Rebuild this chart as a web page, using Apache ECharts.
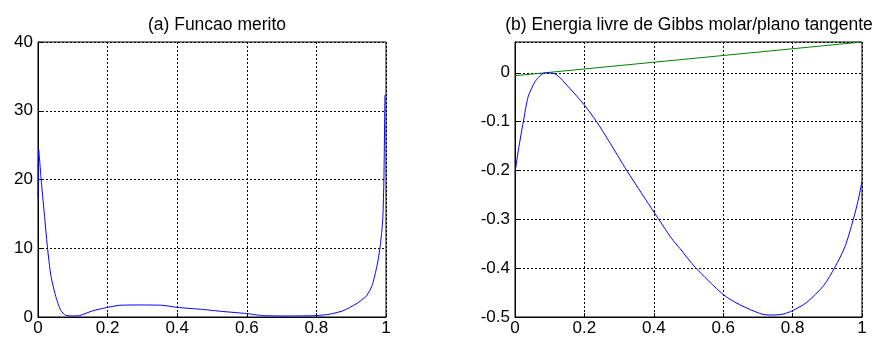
<!DOCTYPE html>
<html>
<head>
<meta charset="utf-8">
<script src="https://cdn.jsdelivr.net/npm/echarts@6/dist/echarts.min.js"></script>
<style>
html,body{margin:0;padding:0;background:#fff;}
#c{width:878px;height:341px;}
</style>
</head>
<body>
<div id="c"></div>
<script>
// (a) Funcao merito
var titleA = '(a) Funcao merito';
var xA = [0, 0.002, 0.009, 0.018, 0.027, 0.037, 0.051, 0.065, 0.079, 0.1, 0.119, 0.157, 0.2, 0.234, 0.3, 0.358, 0.4, 0.473, 0.531, 0.6, 0.646, 0.72, 0.8, 0.837, 0.876, 0.914, 0.943, 0.954, 0.962, 0.97, 0.977, 0.983, 0.988, 0.991, 0.994, 0.997];
var yA = [17.3, 24.3, 20, 15.1, 10.2, 6.0, 3.0, 1.0, 0.25, 0.15, 0.2, 0.9, 1.4, 1.7, 1.75, 1.7, 1.4, 1.1, 0.8, 0.5, 0.2, 0.15, 0.2, 0.4, 0.9, 1.9, 3.0, 3.9, 4.9, 6.5, 8.2, 10.2, 12.5, 14.5, 20, 32.3];
var xTicksA = [0, 0.2, 0.4, 0.6, 0.8, 1];
var yTicksA = [0, 10, 20, 30, 40];

// (b) Energia livre de Gibbs molar / plano tangente
var titleB = '(b) Energia livre de Gibbs molar/plano tangente';
var xB = [0, 0.0096, 0.024, 0.038, 0.058, 0.077, 0.096, 0.12, 0.154, 0.2, 0.235, 0.269, 0.322, 0.365, 0.403, 0.451, 0.4755, 0.519, 0.6, 0.648, 0.711, 0.742, 0.773, 0.8, 0.841, 0.889, 0.922, 0.951, 0.975, 0.989, 1.0];
var yB = [-0.205, -0.159, -0.1, -0.049, -0.018, -0.003, 0, -0.004, -0.029, -0.066, -0.1, -0.138, -0.2, -0.247, -0.288, -0.339, -0.36, -0.398, -0.454, -0.475, -0.494, -0.496, -0.494, -0.487, -0.47, -0.436, -0.398, -0.356, -0.3, -0.261, -0.223];
var tangentX = [0, 1];
var tangentY = [-0.006, 0.063];
var yMaxB = 0.063;

function pairs(xs, ys) { return xs.map(function (x, i) { return [x, ys[i]]; }); }

var font = 'Liberation Sans, Arial, sans-serif';
var gridLine = { show: true, lineStyle: { color: '#000', width: 1, type: [2, 2] } };
var axisLine = { show: true, onZero: false, lineStyle: { color: '#000', width: 1 } };
var tick = { show: true, inside: true, length: 4, lineStyle: { color: '#000' } };
var label = { color: '#000', fontSize: 17, fontFamily: font };

var chart = echarts.init(document.getElementById('c'), null, { renderer: 'canvas' });
chart.setOption({
  animation: false,
  backgroundColor: '#fff',
  title: [
    { text: titleA, left: 212, top: 11, textAlign: 'center',
      textStyle: { fontSize: 17.5, fontWeight: 'normal', color: '#000', fontFamily: font } },
    { text: titleB, left: 684, top: 11, textAlign: 'center',
      textStyle: { fontSize: 17.5, fontWeight: 'normal', color: '#000', fontFamily: font } }
  ],
  grid: [
    { left: 38, right: 492, top: 42, bottom: 24, show: true, borderColor: '#000', borderWidth: 1 },
    { left: 515, right: 16, top: 42, bottom: 24, show: true, borderColor: '#000', borderWidth: 1 }
  ],
  xAxis: [
    { gridIndex: 0, type: 'value', min: xTicksA[0], max: xTicksA[xTicksA.length - 1], interval: 0.2,
      axisLine: axisLine, axisTick: tick, splitLine: gridLine, axisLabel: Object.assign({ margin: 3 }, label) },
    { gridIndex: 1, type: 'value', min: 0, max: 1, interval: 0.2,
      axisLine: axisLine, axisTick: tick, splitLine: gridLine, axisLabel: Object.assign({ margin: 3 }, label) }
  ],
  yAxis: [
    { gridIndex: 0, type: 'value', min: yTicksA[0], max: yTicksA[yTicksA.length - 1], interval: 10,
      axisLine: axisLine, axisTick: tick, splitLine: gridLine, axisLabel: Object.assign({ margin: 5 }, label) },
    { gridIndex: 1, type: 'value', min: -0.5, max: yMaxB, interval: 0.1,
      axisLine: axisLine, axisTick: tick, splitLine: gridLine,
      axisLabel: Object.assign({ margin: 5, showMaxLabel: false }, label) }
  ],
  series: [
    { type: 'line', xAxisIndex: 0, yAxisIndex: 0, data: pairs(xA, yA), showSymbol: false,
      smooth: 0.2, lineStyle: { color: '#0000ff', width: 1 }, itemStyle: { color: '#0000ff' } },
    { type: 'line', xAxisIndex: 1, yAxisIndex: 1, data: pairs(tangentX, tangentY), showSymbol: false,
      lineStyle: { color: '#008000', width: 1 }, itemStyle: { color: '#008000' } },
    { type: 'line', xAxisIndex: 1, yAxisIndex: 1, data: pairs(xB, yB), showSymbol: false,
      smooth: 0.25, lineStyle: { color: '#0000ff', width: 1 }, itemStyle: { color: '#0000ff' } }
  ]
});
</script>
</body>
</html>
